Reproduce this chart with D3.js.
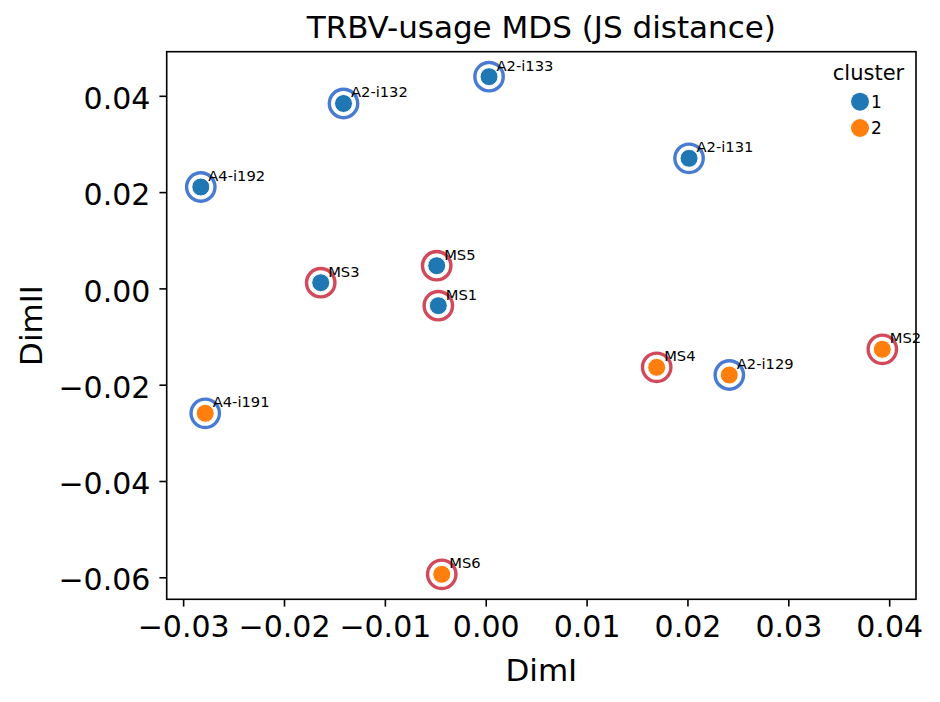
<!DOCTYPE html>
<meta charset="utf-8" />
<style>
  html,
  body {
    margin: 0;
    padding: 0;
    background: #fff;
  }
  svg text {
    font-family: 'DejaVu Sans', sans-serif;
  }
</style>
<script src="https://d3js.org/d3.v7.min.js"></script>

<div id="chart"></div>

<script>
  // samples and their MDS coordinates
  const samples = [
    'A4-i192', 'A2-i132', 'A2-i133', 'A2-i131', 'MS3', 'MS5',
    'MS1', 'MS4', 'A2-i129', 'MS2', 'A4-i191', 'MS6',
  ];
  const dimI = [
    -0.02825, -0.0141, 0.00033, 0.02016, -0.01636, -0.00486,
    -0.0047, 0.01695, 0.02415, 0.03932, -0.02781, -0.00436,
  ];
  const dimII = [
    0.02106, 0.0384, 0.04397, 0.02702, 0.00118, 0.00471,
    -0.00359, -0.01639, -0.01799, -0.01265, -0.02594, -0.05938,
  ];
  const cluster = [1, 1, 1, 1, 1, 1, 1, 2, 2, 2, 2, 2];
  const group = [
    'A', 'A', 'A', 'A', 'MS', 'MS', 'MS', 'MS', 'A', 'MS', 'A', 'MS',
  ];

  const xTicks = [-0.03, -0.02, -0.01, 0.0, 0.01, 0.02, 0.03, 0.04];
  const yTicks = [-0.06, -0.04, -0.02, 0.0, 0.02, 0.04];
  const clusters = [1, 2];

  const width = 940;
  const height = 702;
  const margin = { top: 51.7, right: 24, bottom: 102.7, left: 166.7 };
  const innerW = width - margin.left - margin.right;
  const innerH = height - margin.top - margin.bottom;

  const clusterColor = d3
    .scaleOrdinal()
    .domain(clusters)
    .range(['#1f77b4', '#ff7f0e']);
  const ringColor = d3
    .scaleOrdinal()
    .domain(['A', 'MS'])
    .range(['#4a7bd3', '#d1495b']);

  const points = samples.map((name, i) => ({
    name: name,
    x: dimI[i],
    y: dimII[i],
    cluster: cluster[i],
    group: group[i],
  }));

  const x = d3.scaleLinear().domain([-0.03163, 0.04266]).range([0, innerW]);
  const y = d3.scaleLinear().domain([-0.06457, 0.04916]).range([innerH, 0]);

  const svg = d3
    .select('#chart')
    .append('svg')
    .attr('width', width)
    .attr('height', height);

  const g = svg
    .append('g')
    .attr('transform', 'translate(' + margin.left + ',' + margin.top + ')');

  const fmt = (d) => d3.format('.2f')(d).replace('-', '\u2212');

  // x axis
  const xAxis = g
    .append('g')
    .attr('transform', 'translate(0,' + innerH + ')')
    .call(d3.axisBottom(x).tickValues(xTicks).tickFormat(fmt).tickSize(7.3).tickPadding(7.3));
  xAxis.select('.domain').remove();
  xAxis.selectAll('.tick line').attr('stroke', '#000').attr('stroke-width', 1.6);
  xAxis
    .selectAll('.tick text')
    .attr('font-size', '30px')
    .attr('fill', '#000')
    .attr('dy', '0.76em');

  // y axis
  const yAxis = g
    .append('g')
    .call(d3.axisLeft(y).tickValues(yTicks).tickFormat(fmt).tickSize(7.3).tickPadding(9));
  yAxis.select('.domain').remove();
  yAxis.selectAll('.tick line').attr('stroke', '#000').attr('stroke-width', 1.6);
  yAxis
    .selectAll('.tick text')
    .attr('font-size', '30px')
    .attr('fill', '#000')
    .attr('dy', '0.42em');

  // frame
  g.append('rect')
    .attr('width', innerW)
    .attr('height', innerH)
    .attr('fill', 'none')
    .attr('stroke', '#000')
    .attr('stroke-width', 1.6);

  // rings by sample group
  g.selectAll('.ring')
    .data(points)
    .enter()
    .append('circle')
    .attr('class', 'ring')
    .attr('cx', (d) => x(d.x))
    .attr('cy', (d) => y(d.y))
    .attr('r', 14.2)
    .attr('fill', 'none')
    .attr('stroke', (d) => ringColor(d.group))
    .attr('stroke-width', 3.4);

  // dots by cluster
  g.selectAll('.dot')
    .data(points)
    .enter()
    .append('circle')
    .attr('class', 'dot')
    .attr('cx', (d) => x(d.x))
    .attr('cy', (d) => y(d.y))
    .attr('r', 9)
    .attr('fill', (d) => clusterColor(d.cluster))
    .attr('stroke', '#fff')
    .attr('stroke-width', 1);

  // sample labels
  g.selectAll('.label')
    .data(points)
    .enter()
    .append('text')
    .attr('class', 'label')
    .attr('x', (d) => x(d.x) + 7.5)
    .attr('y', (d) => y(d.y) - 6)
    .attr('font-size', '14.7px')
    .attr('fill', '#000')
    .text((d) => d.name);

  // title
  svg
    .append('text')
    .attr('x', margin.left + innerW / 2)
    .attr('y', 38)
    .attr('text-anchor', 'middle')
    .attr('font-size', '31px')
    .text('TRBV-usage MDS (JS distance)');

  // axis labels
  svg
    .append('text')
    .attr('x', margin.left + innerW / 2)
    .attr('y', 681)
    .attr('text-anchor', 'middle')
    .attr('font-size', '31px')
    .text('DimI');

  svg
    .append('text')
    .attr('transform', 'translate(42,' + (margin.top + innerH / 2) + ') rotate(-90)')
    .attr('text-anchor', 'middle')
    .attr('font-size', '31px')
    .text('DimII');

  // legend
  const legend = svg.append('g').attr('transform', 'translate(860,0)');
  legend
    .append('text')
    .attr('x', 8.5)
    .attr('y', 80)
    .attr('text-anchor', 'middle')
    .attr('font-size', '21px')
    .text('cluster');

  const items = legend
    .selectAll('.item')
    .data(clusters)
    .enter()
    .append('g')
    .attr('transform', (d, i) => 'translate(0,' + (101.7 + i * 26.3) + ')');
  items
    .append('circle')
    .attr('r', 9)
    .attr('fill', (d) => clusterColor(d));
  items
    .append('text')
    .attr('x', 11)
    .attr('y', 6.3)
    .attr('font-size', '17px')
    .text((d) => d);
</script>
